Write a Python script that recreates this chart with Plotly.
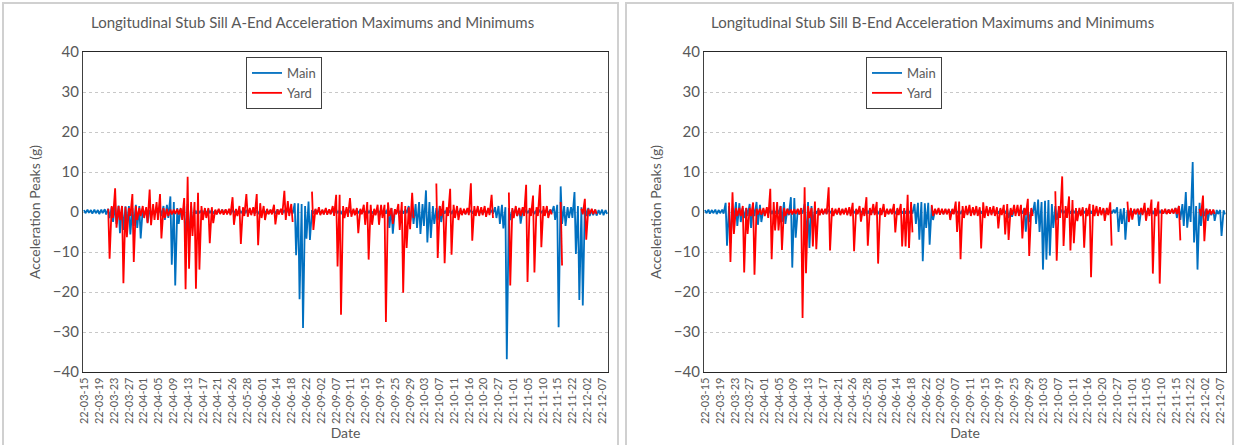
import plotly.graph_objects as go

_ = None

tick_labels = ["22-03-15", "22-03-19", "22-03-23", "22-03-27", "22-04-01", "22-04-05",
               "22-04-09", "22-04-13", "22-04-17", "22-04-21", "22-04-26", "22-05-28",
               "22-06-01", "22-06-14", "22-06-18", "22-06-22", "22-09-02", "22-09-07",
               "22-09-11", "22-09-15", "22-09-19", "22-09-25", "22-09-29", "22-10-03",
               "22-10-07", "22-10-11", "22-10-16", "22-10-20", "22-10-27", "22-11-01",
               "22-11-05", "22-11-10", "22-11-15", "22-11-22", "22-12-02", "22-12-07"]
SAMPLES_PER_LABEL = 4.28

# ---- A-End : per-sample maximum / minimum (g) ----
a_main_max = [0.5, 0.6, 0.5, 0.6, 0.5, 0.6, 0.7, 0.8, 1.2, 1.5,
              1.6, 1.5, 1.4, 1.5, 1.0, 1.8, 1.5, 0.8, 0.8,
              0.5, 0.6, 0.5, 0.8, 1.5, 1.8, 3.9, 2.5, 1.0, 0.8,
              1.5, 2.0, 1.5, 0.5, 0.6, 0.4, 0.5, 0.6, 0.5, 0.4,
              0.5, 0.6, 0.5, 0.4, 0.6, 0.5, 0.6, 0.4, 0.5,
              0.6, 0.5, 0.4, 0.5, 0.6, 0.5, 0.5, 0.4, 0.6, 0.5,
              0.5, 0.6, 0.5, 2.2, 2.2, 2.0, 1.5, 2.6, 0.5, 0.6,
              0.5, 0.4, 0.6, 0.5, 0.5, 0.6, 0.4, 0.5, 0.5,
              0.5, 0.4, 0.6, 0.5, 0.5, 0.6, 0.5, 0.4, 0.5, 0.6,
              0.5, 1.0, 1.0, 0.6, 0.5, 0.5, 0.6, 1.5, 1.0, 2.0,
              2.5, 2.0, 5.4, 2.5, 1.5, 1.0, 1.5, 0.5, 0.6, 0.4,
              0.6, 0.5, 0.5, 0.4, 0.6, 0.5, 0.5, 0.6, 0.4,
              0.5, 0.6, 0.5, 1.2, 1.5, 1.8, 1.2, 1.0, 0.6, 0.8,
              1.0, 0.5, 0.6, 0.5, 0.4, 0.5, 0.6, 0.5, 0.5, 0.6,
              1.5, 1.8, 6.4, 1.5, 1.2, 1.2, 5.0, 1.5, 1.2,
              1.7, 1.0, 0.5, 0.6, 0.5, 0.6, 0.5]
a_main_min = [-0.3, -0.2, -0.4, -0.3, -0.5, -0.3, -0.6, -1.5, -2.5, -3.0,
              -5.3, -4.5, -3.0, -5.6, -3.5, -4.0, -6.6, -1.0, -2.6,
              -0.4, -0.5, -0.4, -1.0, -2.0, -1.5, -13.2, -18.4, -3.0, -1.0,
              -7.3, -7.0, -3.5, -0.4, -0.3, -0.5, -0.4, -0.3, -0.4, -0.5,
              -0.4, -0.3, -0.4, -0.5, -0.3, -0.4, -0.3, -0.5, -0.4,
              -0.3, -0.4, -0.5, -0.4, -0.3, -0.4, -0.4, -0.5, -0.3, -0.4,
              -0.4, -0.3, -0.4, -10.8, -21.8, -29.0, -6.7, -7.0, -0.4, -0.3,
              -0.4, -0.5, -0.3, -0.4, -0.4, -0.3, -0.5, -0.4, -0.4,
              -0.4, -0.5, -0.3, -0.4, -0.4, -0.3, -0.4, -0.5, -0.4, -0.3,
              -0.4, -4.0, -5.4, -0.3, -0.4, -0.4, -0.3, -2.5, -3.0, -4.0,
              -5.5, -3.5, -7.6, -6.5, -3.0, -2.0, -2.5, -0.4, -0.3, -0.5,
              -0.3, -0.4, -0.4, -0.5, -0.3, -0.4, -0.4, -0.3, -0.5,
              -0.4, -0.3, -0.4, -1.5, -3.0, -4.1, -36.8, -2.0, -0.5, -1.0,
              -2.9, -0.4, -0.3, -0.4, -0.5, -0.4, -0.3, -0.4, -0.4, -0.3,
              -2.0, -28.8, -3.0, -3.5, -1.5, -1.5, -10.5, -22.0, -23.4,
              -1.0, -1.0, -0.8, -0.9, -0.6, -0.8, -0.5]
a_yard_max = [_, _, _, _, _, _, _, 0.8, 1.5, 5.9,
              1.5, 1.5, 1.3, 1.0, 4.5, 1.5, 1.0, 1.5, 1.2,
              5.6, 2.0, 2.5, 4.5, 1.0, 0.8, 0.6, 0.6, 0.7, 1.0,
              3.5, 8.8, 2.5, 2.5, 4.8, 1.5, 1.0, 1.0, 1.2, 0.6,
              0.8, 0.6, 0.7, 0.8, 3.7, 0.8, 1.5, 1.2, 4.5,
              1.0, 1.2, 4.5, 2.2, 1.5, 0.8, 0.6, 1.8, 0.7, 0.8,
              5.3, 2.7, 2.0, _, _, _, _, _, 5.1, 0.8,
              1.2, 0.6, 1.0, 0.7, 1.5, 4.3, 4.3, 1.5, 1.2,
              3.5, 0.8, 1.0, 0.8, 1.8, 2.5, 1.8, 0.8, 1.8, 1.8,
              1.8, 2.4, 1.0, 0.7, 2.0, 2.5, 1.5, 1.2, 4.8, _,
              _, _, _, _, _, 7.1, 1.5, 2.8, 1.2, 5.8,
              1.8, 1.5, 1.0, 0.8, 1.0, 7.2, 1.5, 1.5, 1.2,
              1.5, 1.0, 4.3, _, _, _, _, 4.9, 1.0, 1.5,
              1.0, 1.2, 6.8, 1.0, 4.1, 1.2, 6.8, 1.5, 1.5, 0.6,
              _, _, 2.5, _, _, _, _, _, 0.8,
              3.3, 0.8, 0.8, 0.6, _, _, _]
a_yard_min = [_, _, _, _, _, _, _, -11.7, -1.5, -3.9,
              -2.0, -17.8, -6.3, -1.0, -12.5, -2.0, -1.0, -1.5, -2.8,
              -3.3, -2.0, -2.0, -6.6, -1.5, -1.0, -0.6, -0.5, -0.6, -2.0,
              -19.3, -14.2, -6.0, -19.2, -14.4, -2.0, -1.5, -7.8, -2.8, -0.6,
              -0.5, -0.7, -0.6, -0.8, -3.2, -1.0, -8.0, -1.0, -1.2,
              -0.8, -1.0, -8.3, -1.5, -2.0, -0.6, -0.6, -3.1, -0.6, -0.7,
              -2.0, -1.0, -2.5, _, _, _, _, _, -4.5, -0.6,
              -0.8, -0.6, -0.7, -0.6, -1.0, -13.6, -25.7, -1.5, -1.2,
              -1.2, -0.8, -5.3, -0.6, -3.2, -11.9, -3.2, -0.8, -3.2, -1.5,
              -27.5, -1.0, -3.0, -0.6, -4.5, -20.2, -9.0, -4.3, -1.5, _,
              _, _, _, _, _, -11.5, -1.0, -12.8, -1.0, -10.7,
              -1.5, -2.0, -0.8, -0.6, -0.8, -7.2, -1.0, -1.0, -0.8,
              -1.2, -0.8, -1.5, _, _, _, _, -18.4, -1.5, -1.0,
              -1.0, -1.0, -17.5, -1.0, -15.1, -1.0, -8.8, -1.0, -1.5, -0.6,
              _, _, -13.4, _, _, _, _, _, -0.6,
              -6.9, -0.5, -0.5, -0.5, _, _, _]

# ---- B-End : per-sample maximum / minimum (g) ----
b_main_max = [0.5, 0.6, 0.5, 0.6, 0.5, 0.6, 2.3, 1.5, 1.0, 2.5,
              2.2, 1.0, 1.0, 2.0, 1.0, 2.5, 1.8, 0.6, 0.5,
              0.6, 0.5, 0.6, 1.5, 2.5, 0.8, 3.7, 3.5, 0.6, 0.5,
              2.0, 2.5, 1.5, 0.5, 0.6, 0.4, 0.5, 0.6, 0.5, 0.4,
              0.5, 0.6, 0.5, 0.4, 0.6, 0.5, 0.6, 0.4, 0.5,
              0.6, 0.5, 0.4, 0.5, 0.6, 0.5, 0.5, 0.4, 0.6, 0.5,
              0.5, 0.6, 0.5, 2.0, 2.3, 2.5, 2.2, 2.3, 1.5, 0.6,
              0.5, 0.4, 0.6, 0.5, 0.5, 0.6, 0.4, 0.5, 0.5,
              0.5, 0.4, 0.6, 0.5, 0.5, 0.6, 0.5, 0.4, 0.5, 0.6,
              0.5, 0.8, 0.6, 0.5, 0.6, 0.5, 1.0, 1.0, 0.6, 2.5,
              3.1, 2.5, 2.8, 3.0, 2.0, 1.5, 0.5, 0.6, 0.4, 0.5,
              0.6, 0.5, 0.4, 0.6, 0.5, 0.5, 0.6, 0.4, 0.5,
              0.6, 0.5, 0.5, 0.6, 1.2, 0.8, 1.0, 0.5, 0.6, 0.5,
              0.8, 0.5, 0.6, 0.5, 0.4, 0.5, 0.6, 0.5, 0.5, 0.6,
              0.6, 1.0, 1.5, 2.0, 5.0, 1.5, 12.5, 1.5, 2.3,
              1.0, 0.8, 0.6, 0.5, 0.5, 0.5, 0.4]
b_main_min = [-0.3, -0.4, -0.3, -0.5, -0.3, -0.4, -8.4, -7.8, -2.0, -3.5,
              -2.5, -1.5, -1.0, -4.0, -1.0, -3.2, -2.5, -0.5, -0.4,
              -0.5, -0.4, -0.5, -2.5, -3.0, -0.8, -13.9, -6.4, -0.5, -0.4,
              -7.5, -9.0, -3.0, -0.4, -0.3, -0.5, -0.4, -0.3, -0.4, -0.5,
              -0.4, -0.3, -0.4, -0.5, -0.3, -0.4, -0.3, -0.5, -0.4,
              -0.3, -0.4, -0.5, -0.4, -0.3, -0.4, -0.4, -0.5, -0.3, -0.4,
              -0.4, -0.3, -0.4, -3.0, -6.9, -12.3, -4.0, -8.2, -2.0, -0.3,
              -0.4, -0.5, -0.3, -0.4, -0.4, -0.3, -0.5, -0.4, -0.4,
              -0.4, -0.5, -0.3, -0.4, -0.4, -0.3, -0.4, -0.5, -0.4, -0.3,
              -0.4, -1.5, -1.2, -0.3, -0.4, -0.4, -4.9, -2.5, -0.5, -3.0,
              -5.0, -14.4, -11.9, -10.9, -4.0, -2.0, -0.4, -0.3, -0.5, -0.4,
              -0.3, -0.4, -0.5, -0.3, -0.4, -0.4, -0.3, -0.5, -0.4,
              -0.3, -0.4, -0.4, -0.3, -5.0, -3.0, -6.9, -0.4, -0.3, -0.4,
              -3.5, -0.4, -0.3, -0.4, -0.5, -0.4, -0.3, -0.4, -0.4, -0.3,
              -0.3, -1.5, -2.0, -3.5, -3.9, -2.5, -7.6, -14.4, -3.5,
              -1.0, -2.2, -0.8, -2.2, -0.5, -6.0, -0.6]
b_yard_max = [_, _, _, _, _, _, _, 2.4, 4.9, 1.0,
              1.0, 1.5, 1.0, 1.0, 2.4, 0.8, 0.8, 1.0, 1.2,
              5.8, 2.5, 2.5, 1.5, 1.0, 0.8, 0.6, 0.7, 0.8, 1.0,
              6.2, 1.5, 1.0, 2.6, 1.0, 0.8, 0.8, 6.2, 1.0, 0.8,
              1.0, 0.8, 1.0, 1.2, 2.3, 0.8, 1.5, 1.0, 3.7,
              1.0, 2.0, 2.5, 1.0, 2.0, 0.8, 0.8, 2.0, 1.0, 2.0,
              1.0, 4.3, 2.5, _, _, _, _, _, 1.8, 0.8,
              1.0, 0.8, 0.8, 0.8, 0.8, 2.6, 2.6, 1.5, 1.5,
              1.8, 1.2, 1.5, 1.2, 2.4, 1.5, 1.2, 1.5, 1.2, 1.0,
              1.8, 2.0, 1.0, 1.8, 1.8, 1.8, 1.0, 3.3, 1.0, _,
              _, _, _, _, _, 5.2, 1.5, 8.9, 1.5, 3.9,
              3.0, 1.0, 1.0, 1.2, 1.0, 2.0, 1.8, 1.5, 1.2,
              1.0, 1.0, 2.4, _, _, _, _, 2.6, 1.0, 0.8,
              0.8, 1.0, 2.3, 1.0, 3.1, 1.0, 2.6, 0.6, 0.8, 0.6,
              0.8, 1.0, 1.5, _, _, _, _, _, 0.8,
              4.1, 0.8, 0.6, 0.6, _, _, _]
b_yard_min = [_, _, _, _, _, _, _, -12.5, -5.5, -1.0,
              -1.0, -15.1, -5.5, -1.0, -15.7, -0.6, -0.7, -1.0, -1.5,
              -11.8, -4.6, -4.6, -9.5, -1.0, -0.6, -0.6, -0.5, -0.6, -26.5,
              -15.3, -1.5, -8.6, -9.3, -0.8, -0.6, -0.6, -9.6, -1.0, -0.6,
              -0.8, -0.6, -0.8, -1.0, -9.8, -0.6, -2.4, -1.0, -8.4,
              -0.8, -0.8, -12.9, -0.8, -1.2, -0.6, -0.6, -5.1, -0.8, -8.6,
              -8.6, -9.0, -5.1, _, _, _, _, _, -1.0, -0.6,
              -0.7, -0.6, -0.6, -2.0, -0.6, -5.0, -11.8, -1.5, -0.8,
              -1.0, -0.8, -1.0, -9.1, -1.5, -1.0, -0.8, -1.0, -4.1, -0.8,
              -5.6, -7.0, -0.8, -1.0, -1.0, -6.6, -0.8, -11.0, -1.0, _,
              _, _, _, _, _, -12.2, -1.5, -8.5, -1.5, -9.6,
              -7.8, -2.3, -1.0, -8.9, -1.0, -16.3, -1.0, -1.0, -0.8,
              -2.2, -0.8, -8.4, _, _, _, _, -2.5, -1.9, -0.6,
              -0.6, -0.8, -2.2, -1.0, -15.4, -1.0, -17.9, -0.4, -0.5, -0.4,
              -0.4, -0.5, -7.1, _, _, _, _, _, -1.0,
              -7.3, -0.5, -0.6, -0.5, _, _, _]

MAIN_COLOR = "#0070C0"
YARD_COLOR = "#FF0000"
TXT = "#595959"
FONT = "Lato"
W, H = 1235, 445


def zigzag(vmax, vmin):
    xs, ys = [], []
    for i, (a, b) in enumerate(zip(vmax, vmin)):
        xs += [i - 0.2, i + 0.2]
        ys += [a, b]
    return xs, ys


fig = go.Figure()

panels = [
    dict(title="Longitudinal Stub Sill A-End Acceleration Maximums and Minimums",
         main=(a_main_max, a_main_min), yard=(a_yard_max, a_yard_min),
         xa="x", ya="y", legend="legend",
         plot=(83, 608), box=(3, 618), title_x=312, leg_x=246),
    dict(title="Longitudinal Stub Sill B-End Acceleration Maximums and Minimums",
         main=(b_main_max, b_main_min), yard=(b_yard_max, b_yard_min),
         xa="x2", ya="y2", legend="legend2",
         plot=(704, 1226), box=(626, 1233), title_x=932, leg_x=866),
]

plot_top, plot_bot = 52, 372
ydom = [(H - plot_bot) / H, (H - plot_top) / H]

n = len(a_main_max)
tickvals = [k * SAMPLES_PER_LABEL for k in range(len(tick_labels))]

layout = dict(
    width=W, height=H, margin=dict(l=0, r=0, t=0, b=0, autoexpand=False),
    paper_bgcolor="white", plot_bgcolor="white",
    font=dict(family=FONT, color=TXT),
    shapes=[], annotations=[],
)

for k, p in enumerate(panels):
    mx, my = zigzag(*p["main"])
    yx, yy = zigzag(*p["yard"])
    fig.add_trace(go.Scatter(x=mx, y=my, mode="lines", name="Main",
                             line=dict(color=MAIN_COLOR, width=1.8),
                             xaxis=p["xa"], yaxis=p["ya"], legend=p["legend"]))
    fig.add_trace(go.Scatter(x=yx, y=yy, mode="lines", name="Yard",
                             line=dict(color=YARD_COLOR, width=1.8),
                             xaxis=p["xa"], yaxis=p["ya"], legend=p["legend"]))
    suffix = "" if k == 0 else "2"
    layout["xaxis" + suffix] = dict(
        domain=[p["plot"][0] / W, p["plot"][1] / W], anchor="y" + suffix,
        range=[-0.5, n - 0.5], tickmode="array", tickvals=tickvals, ticktext=tick_labels,
        tickangle=-90, tickfont=dict(size=11, color=TXT, family=FONT),
        showgrid=False, zeroline=False, showline=True, mirror=True, automargin=False,
        linecolor="#262626", linewidth=1.3, ticks="",
        title=dict(text="Date", font=dict(size=14, color=TXT, family=FONT), standoff=2),
    )
    layout["yaxis" + suffix] = dict(
        domain=ydom, anchor="x" + suffix, range=[-40, 40], dtick=10,
        tickfont=dict(size=15, color=TXT, family=FONT),
        showgrid=True, gridcolor="#c8c8c8", griddash="dot", gridwidth=1,
        zeroline=False, showline=True, mirror=True, automargin=False,
        linecolor="#404040", linewidth=1.3, ticks="",
        title=dict(text="Acceleration Peaks (g)", font=dict(size=14, color=TXT, family=FONT),
                   standoff=8),
    )
    layout[p["legend"]] = dict(
        x=p["leg_x"] / W, y=(H - 57) / H, xanchor="left", yanchor="top",
        bordercolor="#404040", borderwidth=1, bgcolor="white",
        font=dict(size=13, color=TXT, family=FONT), tracegroupgap=0,
        itemwidth=30,
    )
    layout["shapes"].append(dict(type="rect", xref="paper", yref="paper",
                                 x0=p["box"][0] / W, x1=p["box"][1] / W,
                                 y0=-0.01, y1=(H - 3) / H,
                                 line=dict(color="#d0d0d0", width=2), layer="below"))
    layout["annotations"].append(dict(text=p["title"], xref="paper", yref="paper",
                                      x=p["title_x"] / W, y=(H - 22) / H,
                                      xanchor="center", yanchor="middle", showarrow=False,
                                      font=dict(size=15, color=TXT, family=FONT)))

fig.update_layout(**layout)
fig.write_html("out.html")
